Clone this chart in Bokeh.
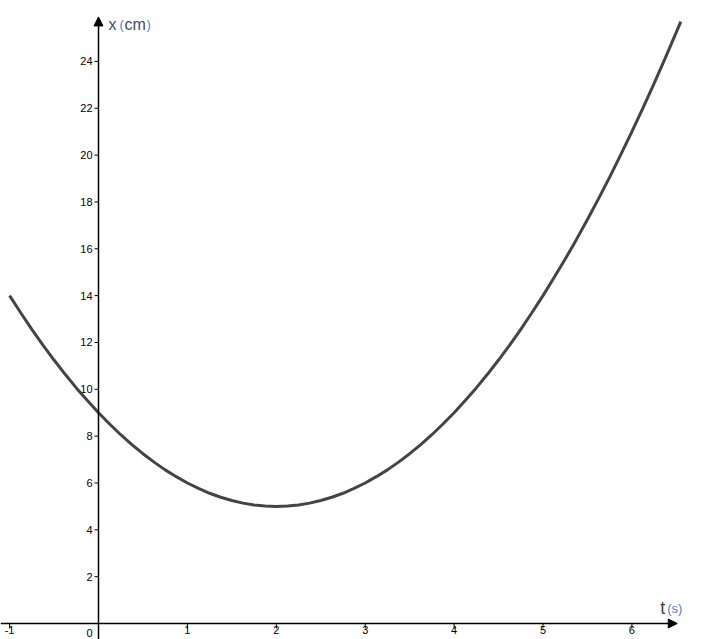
from bokeh.plotting import figure
from bokeh.models import Range1d, Arrow, NormalHead, ColumnDataSource
from bokeh.core.properties import value
from bokeh.embed import file_html
from bokeh.resources import INLINE

# data
t_vals = [-1.0, -0.875, -0.75, -0.625, -0.5, -0.375, -0.25, -0.125, 0.0, 0.125, 0.25,
          0.375, 0.5, 0.625, 0.75, 0.875, 1.0, 1.125, 1.25, 1.375, 1.5, 1.625, 1.75,
          1.875, 2.0, 2.125, 2.25, 2.375, 2.5, 2.625, 2.75, 2.875, 3.0, 3.125, 3.25,
          3.375, 3.5, 3.625, 3.75, 3.875, 4.0, 4.125, 4.25, 4.375, 4.5, 4.625, 4.75,
          4.875, 5.0, 5.125, 5.25, 5.375, 5.5, 5.625, 5.75, 5.875, 6.0, 6.125, 6.25,
          6.375, 6.5, 6.55]
x_vals = [14.0, 13.27, 12.56, 11.89, 11.25, 10.64, 10.06, 9.52, 9.0, 8.52, 8.06,
          7.64, 7.25, 6.89, 6.56, 6.27, 6.0, 5.77, 5.56, 5.39, 5.25, 5.14, 5.06,
          5.02, 5.0, 5.02, 5.06, 5.14, 5.25, 5.39, 5.56, 5.77, 6.0, 6.27, 6.56,
          6.89, 7.25, 7.64, 8.06, 8.52, 9.0, 9.52, 10.06, 10.64, 11.25, 11.89, 12.56,
          13.27, 14.0, 14.77, 15.56, 16.39, 17.25, 18.14, 19.06, 20.02, 21.0, 22.02, 23.06,
          24.14, 25.25, 25.7]
x_ticks = [-1, 1, 2, 3, 4, 5, 6]
y_ticks = [2, 4, 6, 8, 10, 12, 14, 16, 18, 20, 22, 24]
t_axis_end = 6.51
x_axis_end = 25.9

W, H = 709, 639
PXX, PXY = 88.9, 23.42
x0 = -98 / PXX
x1 = x0 + W / PXX
y0 = (623 - 639) / PXY
y1 = y0 + H / PXY

p = figure(width=W, height=H, output_backend="svg", toolbar_location=None,
           x_range=Range1d(x0, x1), y_range=Range1d(y0, y1), min_border=0)
p.axis.visible = False
p.grid.visible = False
p.outline_line_color = None
p.background_fill_color = "white"

font = value("Liberation Sans")

# axes with arrows
p.add_layout(Arrow(end=NormalHead(size=9, fill_color="black", line_color="black"),
                   x_start=x0, y_start=0, x_end=t_axis_end, y_end=0,
                   line_color="black", line_width=1.5))
p.add_layout(Arrow(end=NormalHead(size=9, fill_color="black", line_color="black"),
                   x_start=0, y_start=y0, x_end=0, y_end=x_axis_end,
                   line_color="black", line_width=1.5))

# ticks
xs = ColumnDataSource(dict(x=x_ticks, y=[0] * len(x_ticks), lab=[str(v) for v in x_ticks]))
ys = ColumnDataSource(dict(x=[0] * len(y_ticks), y=y_ticks, lab=[str(v) for v in y_ticks]))
p.ray(x="x", y="y", length=5, length_units="screen", angle=-1.5708, source=xs,
      line_color="black", line_width=1)
p.ray(x="x", y="y", length=4, length_units="screen", angle=3.14159, source=ys,
      line_color="black", line_width=1)

p.text(x="x", y="y", text="lab", source=xs, text_align="center", text_baseline="top",
       y_offset=2, text_font=font, text_font_size="11px", text_color="black")
p.text(x="x", y="y", text="lab", source=ys, text_align="right", text_baseline="middle",
       x_offset=-6, text_font=font, text_font_size="11px", text_color="black")
p.text(x=[0], y=[0], text=["0"], text_align="right", text_baseline="top",
       x_offset=-6, y_offset=5, text_font=font, text_font_size="11px", text_color="black")

# curve
p.line(t_vals, x_vals, line_color="#444444", line_width=3)

# axis titles
dark = "#3a4e6e"
blue = "#4f7fc8"
p.text(x=[0] * 4, y=[x_axis_end] * 4, text=["x", "(", "cm", ")"],
       x_offset=[10, 21, 26, 48], y_offset=[8, 8, 8, 8],
       text_color=[dark, blue, dark, blue],
       text_font_size=["16px", "13px", "16px", "13px"],
       text_align="left", text_baseline="middle", text_font=font)
p.text(x=[t_axis_end] * 2, y=[0] * 2, text=["t", "(s)"],
       x_offset=[-17, -10], y_offset=[-16, -15],
       text_color=["#4a4040", blue], text_font_size=["18px", "13px"],
       text_align="left", text_baseline="middle", text_font=font)

open("out.html", "w").write(file_html(p, INLINE))
